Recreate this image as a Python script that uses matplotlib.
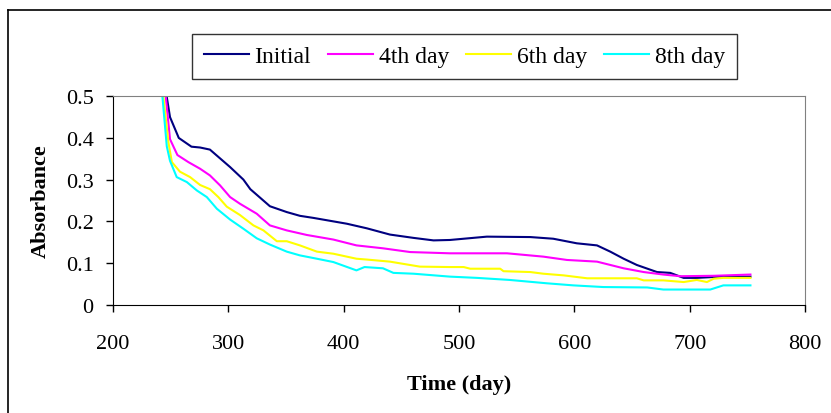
import numpy as np
import matplotlib.pyplot as plt
from matplotlib.lines import Line2D

plt.rcParams['font.family'] = ['Liberation Serif', 'DejaVu Serif']

# time (day) and absorbance
t_initial = [242, 246.5, 249.4, 257, 268, 275.5, 284, 301.5, 313, 319, 336, 350.6, 362, 373.7,
             402.7, 420, 440, 460.5, 477.8, 492, 524, 561.7, 581.6, 602, 619.5, 631, 642.6,
             654, 671.5, 683, 694.6, 706, 726.5, 752.5]
a_initial = [0.62, 0.50, 0.45, 0.40, 0.379, 0.377, 0.372, 0.33, 0.30, 0.277, 0.236, 0.222, 0.213, 0.208,
             0.194, 0.183, 0.168, 0.160, 0.154, 0.155, 0.163, 0.162, 0.158, 0.147, 0.142, 0.127, 0.110,
             0.095, 0.078, 0.076, 0.064, 0.064, 0.067, 0.067]

t_day4 = [241, 245.7, 249.4, 255.8, 265.3, 275.5, 284, 292.8, 301.5, 310, 324.6, 336, 350.6, 368,
          391, 411, 434, 457.6, 492, 541.5, 573, 593.5, 619.5, 642.6, 660, 677, 691.8, 720.6, 752.5]
a_day4 = [0.62, 0.50, 0.397, 0.359, 0.342, 0.326, 0.31, 0.286, 0.258, 0.242, 0.218, 0.19, 0.178, 0.167,
          0.156, 0.142, 0.135, 0.126, 0.123, 0.123, 0.115, 0.107, 0.103, 0.087, 0.078, 0.072, 0.068, 0.069, 0.072]

t_day6 = [240, 243.6, 248, 251, 258, 266.8, 275.5, 284, 291.3, 298.6, 310, 321.7, 330.4, 342, 350.6,
          362, 376.7, 391, 411, 420, 440, 466, 492, 504, 509.6, 535.6, 538.5, 561.7, 573, 590.6, 611,
          654, 660, 677, 694.6, 706, 714.8, 720.6, 729, 752.5]
a_day6 = [0.62, 0.50, 0.39, 0.342, 0.319, 0.306, 0.287, 0.277, 0.258, 0.235, 0.215, 0.19, 0.178, 0.152, 0.152,
          0.142, 0.127, 0.122, 0.11, 0.108, 0.103, 0.091, 0.09, 0.09, 0.086, 0.086, 0.08, 0.078, 0.074, 0.07, 0.063,
          0.063, 0.058, 0.058, 0.054, 0.059, 0.054, 0.062, 0.064, 0.064]

t_day8 = [239, 242.8, 246.6, 249.4, 255.2, 264, 272.6, 281.3, 290, 301.5, 313, 324.6, 336, 350.6, 362,
          376.7, 391, 411, 418, 434, 443, 460.5, 492, 515.4, 544, 576, 599, 625, 663, 677, 717.7, 729, 752.5]
a_day8 = [0.62, 0.50, 0.38, 0.345, 0.306, 0.294, 0.274, 0.258, 0.23, 0.204, 0.182, 0.159, 0.144, 0.127, 0.118,
          0.11, 0.102, 0.082, 0.09, 0.087, 0.076, 0.074, 0.067, 0.064, 0.059, 0.051, 0.046, 0.042, 0.041, 0.036,
          0.036, 0.046, 0.046]

fig = plt.figure(figsize=(8.31, 4.14), dpi=100)
ax = fig.add_axes([0.136, 0.262, 0.833, 0.503])

ax.plot(t_initial, a_initial, color='#000080', lw=1.5, label='Initial')
ax.plot(t_day4, a_day4, color='#FF00FF', lw=1.5, label='4th day')
ax.plot(t_day6, a_day6, color='#FFFF00', lw=1.5, label='6th day')
ax.plot(t_day8, a_day8, color='#00FFFF', lw=1.5, label='8th day')

ax.set_xlim(200, 800)
ax.set_ylim(0, 0.5)
ax.set_xticks(np.arange(200, 801, 100))
ax.set_yticks([0, 0.1, 0.2, 0.3, 0.4, 0.5])
ax.set_yticklabels(['0', '0.1', '0.2', '0.3', '0.4', '0.5'])
ax.tick_params(labelsize=16, length=5, width=1, direction='out')
ax.tick_params(axis='x', pad=16)
ax.tick_params(axis='y', pad=9)

for s in ['top', 'right']:
    ax.spines[s].set_color('#808080')
for s in ['left', 'bottom']:
    ax.spines[s].set_color('black')

ax.set_xlabel('Time (day)', fontsize=16, fontweight='bold', labelpad=15)
ax.set_ylabel('Absorbance', fontsize=16, fontweight='bold', labelpad=11)

leg = fig.legend(loc='center', bbox_to_anchor=(0.559, 0.861), ncol=4, fontsize=17,
                 frameon=True, fancybox=False, edgecolor='black', handlelength=1.9,
                 handletextpad=0.25, columnspacing=0.72, borderpad=0.5, borderaxespad=0)
leg.get_frame().set_linewidth(1)

# outer chart border (only top and left visible in the crop)
fig.add_artist(Line2D([8 / 831, 8 / 831], [0, 1 - 11 / 414], color='black', lw=1.2))
fig.add_artist(Line2D([8 / 831, 1], [1 - 11 / 414, 1 - 11 / 414], color='black', lw=1.2))

fig.savefig('out.png', dpi=100)
